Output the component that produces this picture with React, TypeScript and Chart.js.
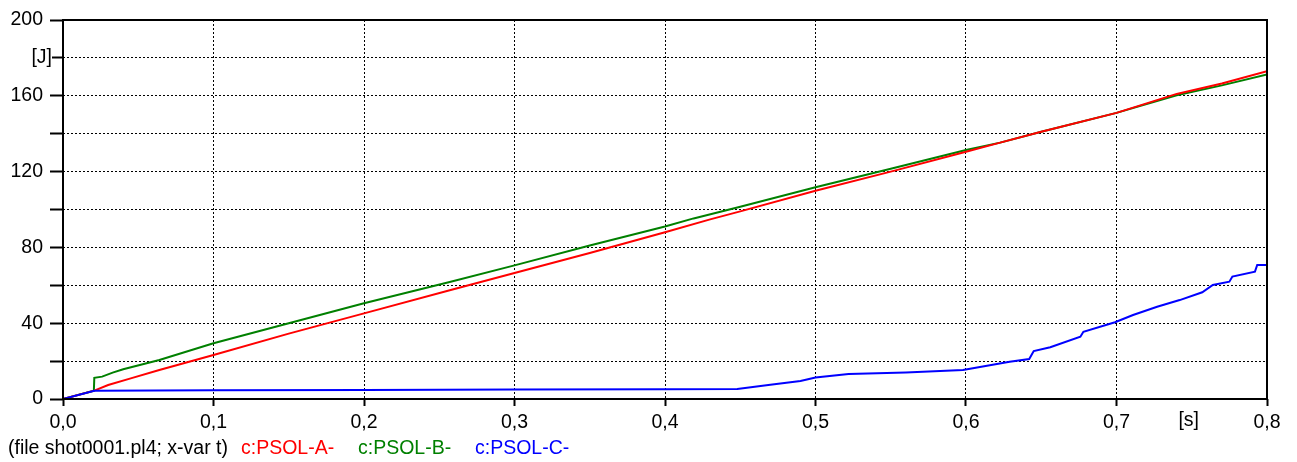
import { useEffect, useRef } from "react";
import { Chart, registerables } from "chart.js";

Chart.register(...registerables);

// ---- axis ticks ----
const xTickValues = [0, 0.1, 0.2, 0.3, 0.4, 0.5, 0.6, 0.7, 0.8];
const xTickLabels = ["0,0", "0,1", "0,2", "0,3", "0,4", "0,5", "0,6", "0,7", "0,8"];
const yTickValues = [0, 20, 40, 60, 80, 100, 120, 140, 160, 180, 200];
const yTickLabels = ["0", "", "40", "", "80", "", "120", "", "160", "", "200"];
const yUnitLabel = "[J]";
const yUnitValue = 180;
const xUnitLabel = "[s]";
const xUnitValue = 0.748;
const footerText = "(file shot0001.pl4; x-var t)";

// ---- series ----
const seriesNames = ["c:PSOL-A-", "c:PSOL-B-", "c:PSOL-C-"];
const seriesColors = ["#ff0000", "#008000", "#0000ff"];

const aT = [0, 0.0208, 0.03, 0.045, 0.064, 0.1, 0.15, 0.2, 0.2576, 0.3, 0.35, 0.4, 0.43, 0.45, 0.5, 0.55, 0.6, 0.6227, 0.65, 0.7, 0.74, 0.77, 0.8];
const aY = [0, 4.4, 7.4, 10.9, 15.3, 23.2, 34.5, 45.2, 57.5, 66.5, 77, 88, 94.8, 99, 109.9, 120, 130.5, 135.3, 141, 151, 161, 166.5, 173];

const bT = [0, 0.0205, 0.0208, 0.026, 0.033, 0.04, 0.064, 0.1, 0.15, 0.2, 0.2576, 0.3, 0.35, 0.4, 0.419, 0.45, 0.5, 0.55, 0.6, 0.6227, 0.65, 0.7, 0.74, 0.77, 0.8];
const bY = [0, 4.4, 11.2, 11.8, 13.9, 15.7, 20.6, 29.4, 40, 50.5, 61.9, 70.5, 81, 91, 95.3, 101.5, 111.7, 121.5, 131.4, 135.3, 141, 151, 160.3, 165.5, 171.3];

const cT = [0, 0.0208, 0.1, 0.2, 0.3, 0.4, 0.448, 0.47, 0.49, 0.5, 0.522, 0.56, 0.598, 0.629, 0.642, 0.645, 0.656, 0.676, 0.678, 0.699, 0.711, 0.727, 0.742, 0.757, 0.764, 0.775, 0.777, 0.792, 0.7935, 0.8];
const cY = [0, 4.4, 4.6, 4.8, 5.0, 5.2, 5.3, 7.5, 9.5, 11.3, 13.2, 14.0, 15.3, 19.7, 21.1, 25.3, 27.3, 32.9, 35.5, 40.5, 44.3, 48.7, 52.2, 56.3, 60.2, 61.9, 64.6, 67.2, 70.7, 70.7];

const FONT = "'Liberation Sans', Arial, sans-serif";
const FONT_SIZE = 19.5;

function pts(t: number[], y: number[]) {
  return t.map((x, i) => ({ x, y: y[i] }));
}

export default function App() {
  const ref = useRef<HTMLCanvasElement | null>(null);

  useEffect(() => {
    const canvas = ref.current;
    if (!canvas) return;

    const decor = {
      id: "decor",
      afterDatasetsDraw(chart: any) {
        const { ctx, chartArea: a } = chart;
        ctx.save();
        ctx.strokeStyle = "#000";
        ctx.lineWidth = 2;
        ctx.strokeRect(a.left, a.top, a.right - a.left, a.bottom - a.top);
        ctx.restore();
      },
      afterDraw(chart: any) {
        const { ctx, scales } = chart;
        ctx.save();
        ctx.font = `${FONT_SIZE}px ${FONT}`;
        // y unit
        ctx.textAlign = "right";
        ctx.textBaseline = "middle";
        ctx.fillStyle = "#fff";
        ctx.fillRect(26, scales.y.getPixelForValue(yUnitValue) - 3, 26, 6);
        ctx.fillStyle = "#000";
        ctx.fillText(yUnitLabel, 52, scales.y.getPixelForValue(yUnitValue));
        // x unit
        ctx.textAlign = "center";
        ctx.textBaseline = "top";
        ctx.fillText(xUnitLabel, scales.x.getPixelForValue(xUnitValue), scales.x.top + 12);
        // footer
        ctx.textAlign = "left";
        ctx.textBaseline = "alphabetic";
        ctx.fillText(footerText, 8, 454);
        const lx = [241, 358, 475];
        seriesNames.forEach((n, i) => {
          ctx.fillStyle = seriesColors[i];
          ctx.fillText(n, lx[i], 454);
        });
        ctx.restore();
      },
    };

    const chart = new Chart(canvas, {
      type: "line",
      data: {
        datasets: [
          { label: seriesNames[2], data: pts(cT, cY), borderColor: seriesColors[2] },
          { label: seriesNames[0], data: pts(aT, aY), borderColor: seriesColors[0] },
          { label: seriesNames[1], data: pts(bT, bY), borderColor: seriesColors[1] },
        ].map((d) => ({ ...d, borderWidth: 2, pointRadius: 0, tension: 0, fill: false })),
      },
      options: {
        animation: false,
        responsive: false,
        maintainAspectRatio: false,
        events: [],
        layout: { padding: { left: 0, right: 30, top: 20, bottom: 0 } },
        plugins: { legend: { display: false }, tooltip: { enabled: false }, title: { display: false } },
        scales: {
          x: {
            type: "linear",
            min: 0,
            max: 0.8,
            afterBuildTicks: (s: any) => {
              s.ticks = xTickValues.map((v) => ({ value: v }));
            },
            afterFit: (s: any) => {
              s.height = 63;
            },
            ticks: {
              autoSkip: false,
              maxRotation: 0,
              padding: 5,
              color: "#000",
              font: { family: FONT, size: FONT_SIZE },
              callback: (_v: any, i: number) => xTickLabels[i],
            },
            grid: {
              color: "#000",
              lineWidth: 1,
              tickLength: 7,
              tickColor: "#000",
              tickWidth: 2,
            },
            border: { display: false, dash: [2, 2] },
          },
          y: {
            type: "linear",
            min: 0,
            max: 200,
            afterBuildTicks: (s: any) => {
              s.ticks = yTickValues.map((v) => ({ value: v }));
            },
            afterFit: (s: any) => {
              s.width = 63;
            },
            ticks: {
              autoSkip: false,
              padding: 7,
              color: "#000",
              font: { family: FONT, size: FONT_SIZE },
              callback: (_v: any, i: number) => yTickLabels[i],
            },
            grid: {
              color: "#000",
              lineWidth: 1,
              tickLength: 13,
              tickColor: "#000",
              tickWidth: 2,
            },
            border: { display: false, dash: [2, 2] },
          },
        },
      },
      plugins: [decor],
    } as any);

    return () => chart.destroy();
  }, []);

  return (
    <div style={{ position: "fixed", left: 0, top: 0, width: 1297, height: 462, background: "#fff" }}>
      <canvas ref={ref} width={1297} height={462} style={{ width: 1297, height: 462, display: "block" }} />
    </div>
  );
}
